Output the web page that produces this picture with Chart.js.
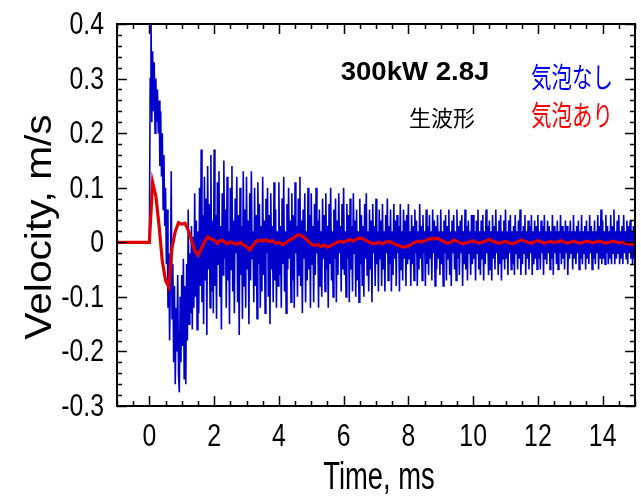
<!DOCTYPE html>
<html>
<head>
<meta charset="utf-8">
<script src="https://cdn.jsdelivr.net/npm/chart.js@4.4.1/dist/chart.umd.min.js"></script>
<style>
  html, body { margin: 0; padding: 0; background: #fff; }
  #wrap { width: 641px; height: 497px; }
</style>
</head>
<body>
<div id="wrap"><canvas id="velChart" width="641" height="497"></canvas></div>
<script>
// Velocity waveform, 300kW 2.8J, raw signal (bubbles off / on)
const xTickLabels = [0, 2, 4, 6, 8, 10, 12, 14];
const yTickLabels = [-0.3, -0.2, -0.1, 0, 0.1, 0.2, 0.3, 0.4];

// sample spacing in ms, both series start at t = 0
const blueStep = 0.025;
const redStep = 0.1;

// 気泡なし (blue), one row per ms, t = 0 .. 15
const blueV = [
  0.00, 0.30, 0.42, 0.22, 0.35, 0.24, 0.33, 0.20, 0.30, 0.22, 0.28, 0.20, 0.26, 0.14, 0.24, 0.12, 0.20, 0.06, 0.16, 0.03,
  0.10, -0.04, 0.06, -0.12, -0.02, -0.18, -0.06, 0.13, -0.14, -0.04, -0.22, -0.08, -0.26, -0.12, -0.20, -0.06, -0.24, -0.275, -0.10, -0.22,
  -0.06, -0.19, -0.03, -0.25, -0.08, -0.26, -0.04, -0.18, 0.06, -0.15, -0.02, -0.13, 0.03, -0.16, 0.01, -0.12, 0.09, -0.10, 0.04, -0.16,
  0.02, -0.13, 0.10, -0.08, 0.17, -0.11, 0.05, -0.15, 0.12, -0.07, 0.08, -0.17, 0.14, -0.05, 0.07, -0.12, 0.16, -0.09, 0.04, -0.13,
  0.17, -0.08, 0.05, -0.14, 0.11, -0.04, 0.13, -0.10, 0.03, -0.16, 0.09, -0.06, 0.15, -0.03, 0.06, -0.12, 0.12, -0.07, 0.02, -0.15,
  0.10, -0.05, 0.14, -0.09, 0.04, -0.13, 0.08, -0.02, 0.12, -0.11, 0.05, -0.17, 0.10, -0.06, 0.03, -0.14, 0.13, -0.08, 0.06, -0.12,
  0.12, -0.05, 0.04, -0.15, 0.09, -0.07, 0.13, -0.03, 0.02, -0.11, 0.10, -0.08, 0.05, -0.14, 0.11, -0.04, 0.07, -0.12, 0.03, -0.09,
  0.12, -0.06, 0.04, -0.13, 0.08, -0.02, 0.10, -0.10, 0.05, -0.15, 0.09, -0.05, 0.03, -0.11, 0.11, -0.07, 0.06, -0.12, 0.02, -0.08,
  0.11, -0.06, 0.03, -0.12, 0.08, -0.04, 0.12, -0.09, 0.02, -0.13, 0.07, -0.05, 0.10, -0.03, 0.04, -0.11, 0.09, -0.07, 0.05, -0.12,
  0.11, -0.02, 0.03, -0.10, 0.08, -0.06, 0.12, -0.08, 0.04, -0.13, 0.06, -0.03, 0.09, -0.11, 0.02, -0.07, 0.10, -0.05, 0.05, -0.12,
  0.09, -0.04, 0.03, -0.11, 0.07, -0.06, 0.10, -0.02, 0.04, -0.12, 0.06, -0.08, 0.02, -0.10, 0.08, -0.03, 0.05, -0.09, 0.09, -0.05,
  0.03, -0.12, 0.07, -0.04, 0.10, -0.07, 0.02, -0.10, 0.06, -0.03, 0.08, -0.11, 0.04, -0.06, 0.09, -0.02, 0.03, -0.09, 0.07, -0.05,
  0.10, -0.06, 0.02, -0.10, 0.07, -0.03, 0.05, -0.11, 0.08, -0.05, 0.03, -0.09, 0.09, -0.02, 0.04, -0.10, 0.06, -0.07, 0.02, -0.11,
  0.08, -0.04, 0.05, -0.08, 0.03, -0.10, 0.07, -0.03, 0.09, -0.06, 0.02, -0.09, 0.06, -0.05, 0.04, -0.11, 0.07, -0.02, 0.03, -0.08,
  0.08, -0.04, 0.02, -0.09, 0.06, -0.03, 0.04, -0.08, 0.07, -0.05, 0.02, -0.09, 0.05, -0.02, 0.08, -0.07, 0.03, -0.04, 0.06, -0.09,
  0.02, -0.06, 0.07, -0.03, 0.04, -0.08, 0.05, -0.02, 0.03, -0.09, 0.07, -0.05, 0.02, -0.07, 0.06, -0.03, 0.04, -0.08, 0.05, -0.04,
  0.07, -0.03, 0.02, -0.08, 0.05, -0.04, 0.03, -0.07, 0.06, -0.02, 0.04, -0.08, 0.02, -0.05, 0.07, -0.03, 0.03, -0.07, 0.05, -0.02,
  0.02, -0.08, 0.06, -0.04, 0.03, -0.06, 0.05, -0.03, 0.02, -0.07, 0.06, -0.02, 0.04, -0.08, 0.03, -0.05, 0.05, -0.03, 0.02, -0.06,
  0.06, -0.04, 0.02, -0.08, 0.04, -0.02, 0.05, -0.07, 0.03, -0.03, 0.06, -0.06, 0.02, -0.08, 0.04, -0.02, 0.05, -0.05, 0.02, -0.07,
  0.06, -0.03, 0.03, -0.06, 0.04, -0.02, 0.05, -0.08, 0.02, -0.04, 0.06, -0.05, 0.03, -0.07, 0.04, -0.02, 0.02, -0.06, 0.05, -0.04,
  0.05, -0.03, 0.02, -0.07, 0.04, -0.02, 0.06, -0.05, 0.02, -0.06, 0.04, -0.03, 0.05, -0.07, 0.02, -0.04, 0.06, -0.02, 0.03, -0.06,
  0.04, -0.05, 0.02, -0.07, 0.05, -0.03, 0.03, -0.05, 0.06, -0.02, 0.02, -0.06, 0.04, -0.04, 0.05, -0.07, 0.02, -0.03, 0.04, -0.05,
  0.06, -0.03, 0.02, -0.06, 0.04, -0.02, 0.05, -0.05, 0.02, -0.04, 0.03, -0.06, 0.05, -0.02, 0.02, -0.05, 0.04, -0.03, 0.06, -0.06,
  0.02, -0.04, 0.03, -0.02, 0.05, -0.06, 0.02, -0.03, 0.04, -0.05, 0.03, -0.02, 0.05, -0.06, 0.02, -0.04, 0.04, -0.03, 0.03, -0.05,
  0.05, -0.03, 0.02, -0.05, 0.04, -0.02, 0.03, -0.06, 0.05, -0.03, 0.02, -0.04, 0.04, -0.02, 0.03, -0.05, 0.02, -0.03, 0.05, -0.06,
  0.03, -0.02, 0.02, -0.04, 0.04, -0.05, 0.02, -0.02, 0.05, -0.04, 0.03, -0.03, 0.02, -0.05, 0.04, -0.02, 0.03, -0.06, 0.02, -0.03,
  0.04, -0.02, 0.02, -0.05, 0.05, -0.03, 0.02, -0.04, 0.03, -0.02, 0.04, -0.05, 0.02, -0.03, 0.05, -0.04, 0.02, -0.02, 0.03, -0.05,
  0.04, -0.03, 0.02, -0.04, 0.05, -0.02, 0.03, -0.05, 0.02, -0.03, 0.04, -0.04, 0.02, -0.02, 0.05, -0.05, 0.03, -0.03, 0.06, -0.04,
  0.04, -0.03, 0.02, -0.04, 0.05, -0.02, 0.03, -0.04, 0.02, -0.03, 0.05, -0.04, 0.03, -0.02, 0.06, -0.04, 0.02, -0.03, 0.04, -0.02,
  0.05, -0.04, 0.02, -0.03, 0.03, -0.04, 0.05, -0.02, 0.02, -0.03, 0.04, -0.04, 0.03, -0.02, 0.04, -0.03, 0.02, -0.04, 0.03, -0.03,
  0.01
];

// 気泡あり (red), t = 0.0 .. 15.0
const redV = [
  0.000, 0.110, 0.085, 0.030, -0.035, -0.070, -0.082, -0.010, 0.020, 0.036,
  0.033, 0.035, 0.022, 0.004, -0.015, -0.024, -0.012, 0.000, 0.010, 0.006,
  0.004, -0.002, 0.004, 0.002, -0.003, 0.001, -0.002, -0.004, 0.000, -0.005,
  -0.008, -0.014, -0.006, 0.002, 0.004, 0.002, 0.005, 0.001, 0.003, -0.002,
  0.000, -0.004, -0.002, 0.003, 0.006, 0.010, 0.014, 0.012, 0.008, 0.002,
  -0.003, -0.006, -0.004, -0.008, -0.005, -0.009, -0.006, -0.003, 0.000, 0.002,
  0.000, 0.003, 0.005, 0.002, 0.006, 0.008, 0.006, 0.003, 0.000, -0.003,
  -0.002, 0.000, -0.003, 0.000, 0.002, -0.001, -0.004, -0.006, -0.008, -0.009,
  -0.007, -0.003, 0.000, 0.002, 0.000, 0.003, 0.005, 0.007, 0.006, 0.008,
  0.004, 0.001, -0.002, 0.000, 0.004, 0.002, -0.001, -0.003, -0.001, 0.001,
  0.003, 0.000, -0.002, 0.001, 0.003, 0.005, 0.002, 0.000, -0.002, 0.000,
  0.002, -0.001, -0.003, -0.001, 0.002, 0.004, 0.002, 0.000, -0.002, 0.001,
  0.003, 0.001, -0.002, 0.000, 0.002, -0.001, 0.001, 0.003, 0.001, -0.002,
  0.000, 0.002, 0.000, -0.002, 0.000, 0.002, 0.001, -0.001, 0.001, 0.002,
  0.000, -0.002, 0.000, 0.002, 0.001, -0.001, 0.000, -0.002, -0.003, -0.004,
  -0.002
];

const toPoints = (vals, step) => [{ x: -1, y: 0 }].concat(
  vals.map((v, i) => ({ x: +(i * step).toFixed(3), y: v }))
);

const sans = '"Liberation Sans", Arial, sans-serif';
const jp = '"Noto Sans CJK JP", sans-serif';

function txt(ctx, s, x, y, font, color, sx, sy, align, rot) {
  ctx.save();
  ctx.translate(x, y);
  if (rot) ctx.rotate(rot);
  ctx.scale(sx, sy);
  ctx.font = font;
  ctx.fillStyle = color;
  ctx.textAlign = align;
  ctx.textBaseline = 'alphabetic';
  ctx.fillText(s, 0, 0);
  ctx.restore();
}

// frame with inward ticks, tick labels and annotation texts
const framePlugin = {
  id: 'frame',
  afterDraw(chart) {
    const { ctx, chartArea: a, scales: { x, y } } = chart;
    ctx.save();
    ctx.strokeStyle = '#000';
    ctx.lineWidth = 2;
    ctx.strokeRect(a.left, a.top, a.right - a.left, a.bottom - a.top);

    ctx.lineWidth = 1.5;
    ctx.beginPath();
    for (let k = -2; k <= 30; k++) {
      const px = Math.round(x.getPixelForValue(k / 2)) + 0.5;
      const len = k % 4 === 0 ? 10 : 5;
      ctx.moveTo(px, a.bottom); ctx.lineTo(px, a.bottom - len);
      ctx.moveTo(px, a.top); ctx.lineTo(px, a.top + len);
    }
    for (let k = -15; k <= 20; k++) {
      const py = Math.round(y.getPixelForValue(k / 50)) + 0.5;
      const len = k % 5 === 0 ? 10 : 5;
      ctx.moveTo(a.left, py); ctx.lineTo(a.left + len, py);
      ctx.moveTo(a.right, py); ctx.lineTo(a.right - len, py);
    }
    ctx.stroke();
    ctx.restore();

    xTickLabels.forEach(v => {
      txt(ctx, String(v), x.getPixelForValue(v), 446, '31px ' + sans, '#000', 0.8, 1, 'center');
    });
    yTickLabels.forEach(v => {
      txt(ctx, String(v), 104, y.getPixelForValue(v) + 10, '31px ' + sans, '#000', 0.8, 1, 'right');
    });

    txt(ctx, 'Time, ms', 379, 489, '38px ' + sans, '#000', 0.72, 1, 'center');
    txt(ctx, 'Velocity, m/s', 51, 227, '36px ' + sans, '#000', 1.13, 1, 'center', -Math.PI / 2);

    txt(ctx, '300kW 2.8J', 415, 80, 'bold 26px ' + sans, '#000', 1.06, 1, 'center');
    txt(ctx, '生波形', 442, 126, '22px ' + jp, '#000', 1, 1, 'center');
    txt(ctx, '気泡なし', 572, 88, '20.5px ' + jp, '#0000ff', 1, 1.4, 'center');
    txt(ctx, '気泡あり', 572, 126, '20.5px ' + jp, '#ff0000', 1, 1.4, 'center');
  }
};

new Chart(document.getElementById('velChart'), {
  type: 'line',
  data: {
    datasets: [
      {
        label: '気泡あり',
        data: toPoints(redV, redStep),
        borderColor: '#e00000',
        borderWidth: 3.2,
        pointRadius: 0,
        tension: 0
      },
      {
        label: '気泡なし',
        data: toPoints(blueV, blueStep),
        borderColor: '#0000cc',
        borderWidth: 1.6,
        pointRadius: 0,
        tension: 0
      }
    ]
  },
  options: {
    responsive: false,
    animation: false,
    events: [],
    layout: { padding: { top: 24, right: 6, left: 0, bottom: 0 } },
    plugins: { legend: { display: false }, tooltip: { enabled: false } },
    scales: {
      x: {
        type: 'linear',
        min: -1,
        max: 15,
        grid: { display: false },
        border: { display: false },
        ticks: { display: false },
        afterFit: s => { s.height = 91; }
      },
      y: {
        min: -0.3,
        max: 0.4,
        grid: { display: false },
        border: { display: false },
        ticks: { display: false },
        afterFit: s => { s.width = 117; }
      }
    }
  },
  plugins: [framePlugin]
});
</script>
</body>
</html>
